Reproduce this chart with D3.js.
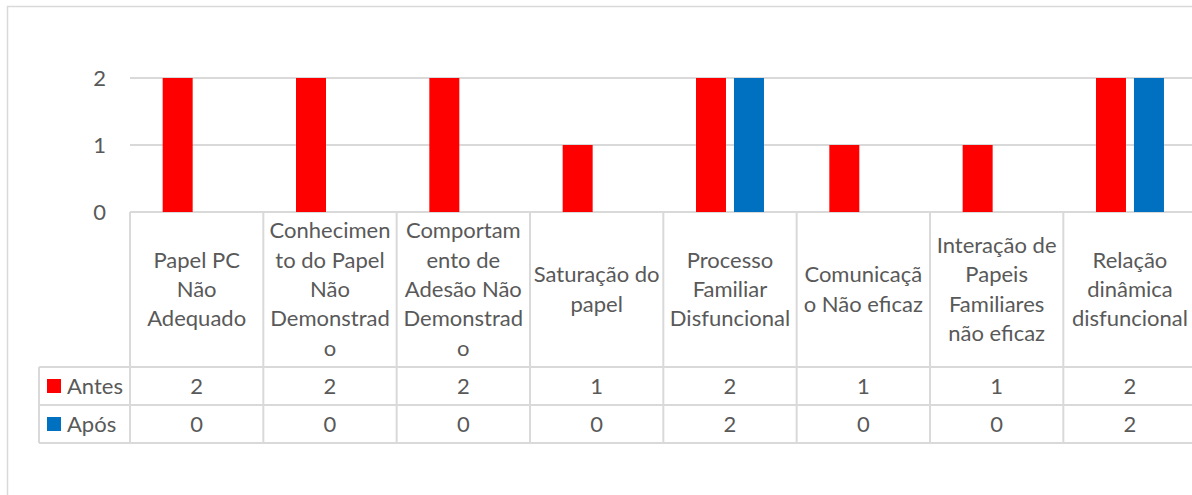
<!DOCTYPE html>
<html>
<head>
<meta charset="utf-8">
<script src="https://cdn.jsdelivr.net/npm/d3@7"></script>
<style>
  html, body { margin: 0; padding: 0; background: #fff; }
  svg { display: block; }
  text { font-family: Lato, "Open Sans", sans-serif; fill: #595959; }
</style>
</head>
<body>
<svg id="chart" width="1192" height="495"></svg>
<script>
// ---- data ----
const categoryLines = [
  ["Papel PC", "Não", "Adequado"],
  ["Conhecimen", "to do Papel", "Não", "Demonstrad", "o"],
  ["Comportam", "ento de", "Adesão Não", "Demonstrad", "o"],
  ["Saturação do", "papel"],
  ["Processo", "Familiar", "Disfuncional"],
  ["Comunicaçã", "o Não eficaz"],
  ["Interação de", "Papeis", "Familiares", "não eficaz"],
  ["Relação", "dinâmica", "disfuncional"]
];
const categories = categoryLines.map(l => l.join(" "));
const seriesNames = ["Antes", "Após"];
const antes = [2, 2, 2, 1, 2, 1, 1, 2];
const apos  = [0, 0, 0, 0, 2, 0, 0, 2];
const seriesColors = ["#ff0000", "#0070c0"];
const yTicks = [0, 1, 2];

// ---- layout ----
const svg = d3.select("#chart");
const gridColor = "#d9d9d9";
const fontSize = 22;
const plotLeft = 130, colW = 133.33;
const plotTop = 78, plotBottom = 212;
const headerBottom = 367, rowH = 38;
const legendLeft = 39;
const lineH = 29.3;

// chart border (extends beyond the visible frame on right/bottom)
svg.append("rect")
  .attr("x", 7.5).attr("y", 6.5)
  .attr("width", 1400).attr("height", 700)
  .attr("fill", "none").attr("stroke", gridColor).attr("stroke-width", 1.5);

const x0 = d3.scaleBand().domain(categories)
  .range([plotLeft, plotLeft + colW * categories.length])
  .paddingInner(0).paddingOuter(0);
const x1 = d3.scaleBand().domain(seriesNames)
  .range([0, x0.bandwidth()])
  .paddingInner(0.2105).paddingOuter(0.86);
const y = d3.scaleLinear().domain([0, 2]).range([plotBottom, plotTop]);

// gridlines
svg.append("g").selectAll("line").data(yTicks).join("line")
  .attr("x1", plotLeft).attr("x2", 1300)
  .attr("y1", d => y(d)).attr("y2", d => y(d))
  .attr("stroke", gridColor).attr("stroke-width", 2);

// y tick labels
svg.append("g").selectAll("text").data(yTicks).join("text")
  .attr("x", 106).attr("y", d => y(d) + 7.5)
  .attr("text-anchor", "end")
  .attr("font-size", fontSize)
  .text(d => d);

// bars
const seriesData = [antes, apos];
const barG = svg.append("g");
seriesNames.forEach((s, si) => {
  barG.append("g").selectAll("rect").data(categories).join("rect")
    .attr("x", c => x0(c) + x1(s))
    .attr("width", x1.bandwidth())
    .attr("y", (c, i) => y(seriesData[si][i]))
    .attr("height", (c, i) => y(0) - y(seriesData[si][i]))
    .attr("fill", seriesColors[si]);
});

// data table
const tableBottom = headerBottom + rowH * seriesNames.length;
const tg = svg.append("g").attr("stroke", gridColor).attr("stroke-width", 2);
// vertical lines of category columns
const colEdges = categories.map(c => x0(c)).concat([x0.range()[1]]);
tg.selectAll("line.v").data(colEdges).join("line")
  .attr("class", "v")
  .attr("x1", d => d).attr("x2", d => d)
  .attr("y1", plotBottom).attr("y2", tableBottom);
// legend column left edge
tg.append("line").attr("x1", legendLeft).attr("x2", legendLeft)
  .attr("y1", headerBottom).attr("y2", tableBottom);
// horizontal row lines
const rowLines = d3.range(seriesNames.length + 1).map(i => headerBottom + i * rowH);
tg.selectAll("line.h").data(rowLines).join("line")
  .attr("class", "h")
  .attr("x1", legendLeft).attr("x2", 1300)
  .attr("y1", d => d).attr("y2", d => d);

// header category labels
const headerMid = 297;
categoryLines.forEach((lines, ci) => {
  const cx = x0(categories[ci]) + x0.bandwidth() / 2;
  const n = lines.length;
  svg.append("g").selectAll("text").data(lines).join("text")
    .attr("x", cx)
    .attr("y", (d, i) => headerMid + (i - (n - 1) / 2) * lineH)
    .attr("text-anchor", "middle")
    .attr("font-size", fontSize)
    .text(d => d);
});

// data rows
seriesNames.forEach((s, si) => {
  const rowMid = headerBottom + rowH * si + rowH / 2;
  svg.append("rect")
    .attr("x", 47).attr("y", rowMid - 7)
    .attr("width", 14).attr("height", 14)
    .attr("fill", seriesColors[si]);
  svg.append("text")
    .attr("x", 67).attr("y", rowMid + 8)
    .attr("font-size", fontSize)
    .text(s);
  svg.append("g").selectAll("text").data(categories).join("text")
    .attr("x", c => x0(c) + x0.bandwidth() / 2)
    .attr("y", rowMid + 8)
    .attr("text-anchor", "middle")
    .attr("font-size", fontSize)
    .text((c, i) => seriesData[si][i]);
});
</script>
</body>
</html>
